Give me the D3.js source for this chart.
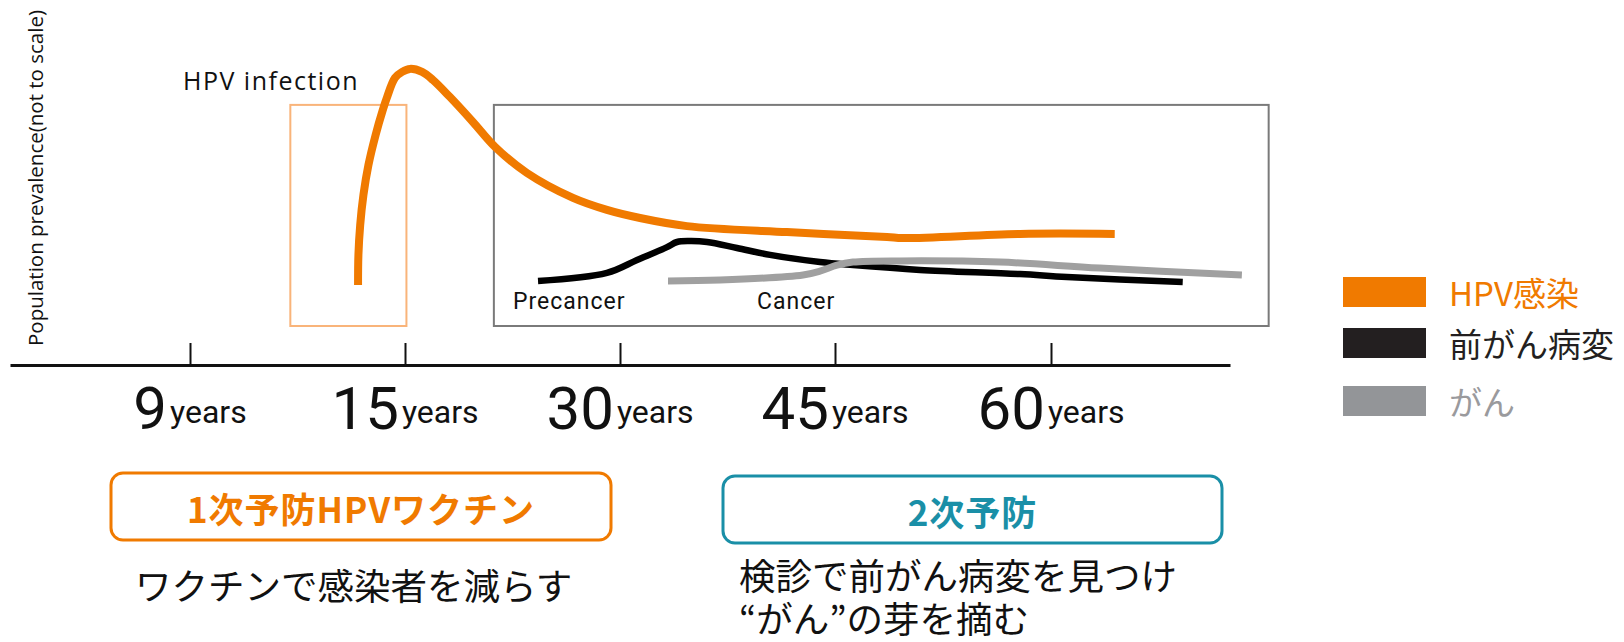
<!DOCTYPE html>
<html>
<head>
<meta charset="utf-8">
<script src="https://cdn.jsdelivr.net/npm/d3@7"></script>
<style>
  body { margin: 0; background: #fff; }
  svg { display: block; }
</style>
</head>
<body>
<svg id="chart" width="1624" height="642"></svg>
<script>
// ages on the axis (not evenly spaced in years, evenly spaced on the page)
const ageTicks = [9, 15, 30, 45, 60];
const tickLabels = ['9', '15', '30', '45', '60'];

// HPV infection curve (age, prevalence in arbitrary units)
const hpvAge   = [13.69, 13.70, 13.75, 13.84, 13.98, 14.18, 14.38, 14.5, 14.72, 14.92, 15.35, 16.19, 16.95, 18.14, 19.74, 21.28, 23.51, 26.72, 29.09, 31.4, 34.67, 41.65, 48.61, 49.72, 57.85, 64.45];
const hpvLevel = [26.7, 36.7, 46.7, 56.7, 66.7, 76.7, 85, 89.3, 95.7, 97.7, 98.7, 97.7, 95, 89.3, 81, 72.7, 64, 55.7, 51.7, 49, 46.3, 44.3, 42.7, 42.3, 43.7, 43.7];

// precancer curve
const precancerAge   = [24.28, 29.09, 31.19, 33.28, 33.98, 34.88, 36.07, 38.16, 40.47, 43.95, 46.25, 50.9, 57.85, 61.11, 69.2];
const precancerLevel = [28, 30.7, 35, 39.3, 41, 41.3, 41, 39, 36.7, 34.3, 33.3, 31.7, 30.3, 29.3, 27.7];

// cancer curve
const cancerAge   = [33.35, 36.98, 42.77, 43.95, 45.14, 46.25, 49.51, 56.46, 63.4, 73.33];
const cancerLevel = [28, 28.3, 30, 31.3, 33.3, 34.3, 34.7, 34.3, 32.3, 30];

// highlighted windows
const vaccineWindow = [11.8, 15.1];
const screeningWindow = [21.2, 75.2];
const windowLevels = [13, 86.7];

// legend
const legendLabels = ['HPV感染', '前がん病変', 'がん'];
const legendColors = ['#f07a00', '#231f20', '#939598'];
const legendTextColors = ['#f07a00', '#231f20', '#9a9a9d'];

const ORANGE = '#f07a00';
const TEAL = '#1a8fa7';
const JP = '"Noto Sans CJK JP", "Noto Sans", sans-serif';

const svg = d3.select('#chart');

// piecewise scale so the ticks sit evenly apart
const x = d3.scaleLinear()
  .domain([4, 9, 15, 30, 45, 60, 72.5])
  .range([10, 190, 405, 620, 835, 1051, 1230]);
const y = d3.scaleLinear().domain([0, 100]).range([365, 65]);

// windows
svg.append('rect')
  .attr('x', x(vaccineWindow[0]))
  .attr('y', y(windowLevels[1]))
  .attr('width', x(vaccineWindow[1]) - x(vaccineWindow[0]))
  .attr('height', y(windowLevels[0]) - y(windowLevels[1]))
  .attr('fill', 'none')
  .attr('stroke', '#f9b47a')
  .attr('stroke-width', 2);

svg.append('rect')
  .attr('x', x(screeningWindow[0]))
  .attr('y', y(windowLevels[1]))
  .attr('width', x(screeningWindow[1]) - x(screeningWindow[0]))
  .attr('height', y(windowLevels[0]) - y(windowLevels[1]))
  .attr('fill', 'none')
  .attr('stroke', '#7a7a7a')
  .attr('stroke-width', 2);

// axis with ticks pointing up
const axis = d3.axisTop(x)
  .tickValues(ageTicks)
  .tickSizeInner(22)
  .tickSizeOuter(0)
  .tickFormat(() => '');
const gAxis = svg.append('g').attr('transform', `translate(0,${y(0)})`).call(axis);
gAxis.select('.domain').attr('stroke', '#111').attr('stroke-width', 3);
gAxis.selectAll('.tick line').attr('stroke', '#111').attr('stroke-width', 2);

// tick labels: big number + small "years"
ageTicks.forEach((t, i) => {
  const g = svg.append('g').attr('transform', `translate(${x(t)},0)`);
  const num = g.append('text')
    .attr('y', 429)
    .style('font-family', 'Roboto, sans-serif')
    .style('font-size', '60px')
    .attr('fill', '#111')
    .text(tickLabels[i]);
  const yrs = g.append('text')
    .attr('y', 423)
    .style('font-family', 'Roboto, sans-serif')
    .style('font-size', '32px')
    .attr('fill', '#111')
    .text('years');
  const wn = num.node().getComputedTextLength();
  const wy = yrs.node().getComputedTextLength();
  const gap = 3;
  const start = -(wn + gap + wy) / 2;
  num.attr('x', start);
  yrs.attr('x', start + wn + gap);
});

// curves
const line = d3.line()
  .x(d => x(d[0]))
  .y(d => y(d[1]))
  .curve(d3.curveCatmullRom.alpha(0.5));

const series = [
  { age: precancerAge, level: precancerLevel, color: '#000', width: 6.5 },
  { age: cancerAge, level: cancerLevel, color: '#a0a0a0', width: 7 },
  { age: hpvAge, level: hpvLevel, color: ORANGE, width: 8 }
];
series.forEach(s => {
  svg.append('path')
    .datum(s.age.map((a, i) => [a, s.level[i]]))
    .attr('d', line)
    .attr('fill', 'none')
    .attr('stroke', s.color)
    .attr('stroke-width', s.width);
});

// annotations
svg.append('text')
  .attr('x', 183).attr('y', 90)
  .style('font-family', '"Open Sans", sans-serif')
  .style('font-size', '25px')
  .style('letter-spacing', '1.5px')
  .attr('fill', '#111')
  .text('HPV infection');

svg.append('text')
  .attr('x', 513).attr('y', 309)
  .style('font-family', 'Roboto, sans-serif')
  .style('font-size', '23px')
  .style('letter-spacing', '1px')
  .attr('fill', '#111')
  .text('Precancer');

svg.append('text')
  .attr('x', 757).attr('y', 309)
  .style('font-family', 'Roboto, sans-serif')
  .style('font-size', '23px')
  .style('letter-spacing', '1px')
  .attr('fill', '#111')
  .text('Cancer');

svg.append('text')
  .attr('transform', 'translate(43,178) rotate(-90)')
  .attr('text-anchor', 'middle')
  .style('font-family', '"Open Sans", sans-serif')
  .style('font-size', '20.5px')
  .attr('fill', '#111')
  .text('Population prevalence(not to scale)');

// legend
const legendTops = [277, 328, 386];
legendLabels.forEach((lab, i) => {
  svg.append('rect')
    .attr('x', 1343).attr('y', legendTops[i])
    .attr('width', 83).attr('height', 30)
    .attr('fill', legendColors[i]);
  svg.append('text')
    .attr('x', 1449).attr('y', legendTops[i] + 15)
    .attr('dominant-baseline', 'central')
    .style('font-family', JP)
    .style('font-size', '33px')
    .attr('fill', legendTextColors[i])
    .text(lab);
});

// prevention boxes
const boxes = [
  { x0: 111, x1: 611, y0: 473, y1: 540, color: ORANGE, title: '1次予防HPVワクチン' },
  { x0: 723, x1: 1222, y0: 476, y1: 543, color: TEAL, title: '2次予防' }
];
boxes.forEach(b => {
  svg.append('rect')
    .attr('x', b.x0).attr('y', b.y0)
    .attr('width', b.x1 - b.x0).attr('height', b.y1 - b.y0)
    .attr('rx', 12)
    .attr('fill', 'none')
    .attr('stroke', b.color)
    .attr('stroke-width', 3);
  svg.append('text')
    .attr('x', (b.x0 + b.x1) / 2).attr('y', (b.y0 + b.y1) / 2 + 1)
    .attr('text-anchor', 'middle')
    .attr('dominant-baseline', 'central')
    .style('font-family', JP)
    .style('font-size', '35px')
    .style('letter-spacing', '1px')
    .style('font-weight', 'bold')
    .attr('fill', b.color)
    .text(b.title);
});

const noteStyle = t => t.style('font-family', JP).style('font-size', '36.5px').attr('fill', '#111');
svg.append('text').attr('x', 135).attr('y', 600).call(noteStyle).text('ワクチンで感染者を減らす');
svg.append('text').attr('x', 739).attr('y', 590).call(noteStyle).text('検診で前がん病変を見つけ');
svg.append('text').attr('x', 739).attr('y', 633).call(noteStyle).text('“がん”の芽を摘む');
</script>
</body>
</html>
